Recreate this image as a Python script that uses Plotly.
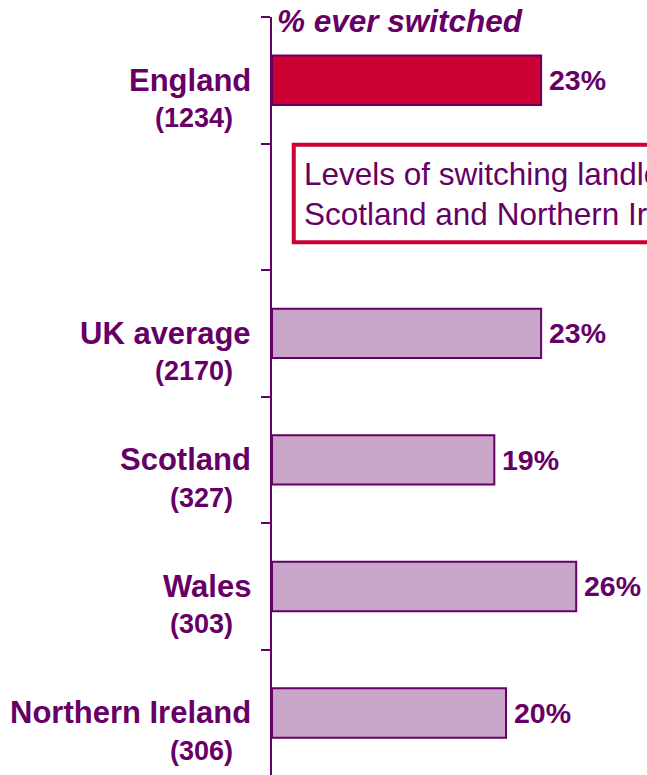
import plotly.graph_objects as go

categories = ["England", " ", "UK average", "Scotland", "Wales", "Northern Ireland"]
sample_sizes = ["(1234)", "", "(2170)", "(327)", "(303)", "(306)"]
values = [23, None, 23, 19, 26, 20]
bar_colors = ["#CC0033", "#C9A6C9", "#C9A6C9", "#C9A6C9", "#C9A6C9", "#C9A6C9"]
title_text = "% ever switched"
box_lines = ["Levels of switching landlords are similar across England, Wales,",
             "Scotland and Northern Ireland"]

PURPLE = "#660066"
RED = "#CC0033"
FONT = "Liberation Sans, Arial, sans-serif"

bar_cats = [c for c, v in zip(categories, values) if v is not None]
bar_vals = [v for v in values if v is not None]
bar_cols = [col for col, v in zip(bar_colors, values) if v is not None]

fig = go.Figure()
fig.add_trace(go.Bar(
    y=bar_cats, x=bar_vals, orientation="h",
    marker=dict(color=bar_cols, line=dict(color=PURPLE, width=2)),
    width=0.39, showlegend=False, hoverinfo="skip",
))

annotations = []
for c, n, v in zip(categories, sample_sizes, values):
    if v is None:
        continue
    annotations.append(dict(
        x=0, xref="paper", y=c, yref="y", text=f"<b>{c}</b>",
        xanchor="right", yanchor="middle", xshift=-19, yshift=0,
        showarrow=False, font=dict(family=FONT, size=31, color=PURPLE)))
    annotations.append(dict(
        x=0, xref="paper", y=c, yref="y", text=f"<b>{n}</b>",
        xanchor="right", yanchor="middle", xshift=-37, yshift=-38,
        showarrow=False, font=dict(family=FONT, size=27, color=PURPLE)))
    annotations.append(dict(
        x=v, xref="x", y=c, yref="y", text=f"<b>{v}%</b>",
        xanchor="left", yanchor="middle", xshift=6,
        showarrow=False, font=dict(family=FONT, size=28.5, color=PURPLE)))

annotations.append(dict(
    x=0, xref="paper", y=1, yref="paper", text=f"<b><i>{title_text}</i></b>",
    xanchor="left", yanchor="middle", xshift=3, yshift=-4,
    showarrow=False, font=dict(family=FONT, size=31.5, color=PURPLE)))

for i, line in enumerate(box_lines):
    annotations.append(dict(
        x=0, xref="paper", y=categories[1], yref="y", text=line,
        xanchor="left", yanchor="middle", xshift=30, yshift=33 - 40 * i,
        showarrow=False, font=dict(family=FONT, size=31.5, color=PURPLE)))

fig.add_shape(type="rect", xref="paper", yref="y",
              x0=0.058, x1=1.2, y0=0.51, y1=1.28,
              line=dict(color=RED, width=4), fillcolor="rgba(0,0,0,0)",
              layer="below")

fig.update_layout(
    width=647, height=775,
    margin=dict(l=272, r=0, t=17, b=0),
    paper_bgcolor="white", plot_bgcolor="white",
    annotations=annotations,
    xaxis=dict(range=[0, 32.05], visible=False, fixedrange=True),
    yaxis=dict(
        categoryorder="array", categoryarray=categories,
        range=[5.49, -0.5], showticklabels=False,
        showline=True, linecolor=PURPLE, linewidth=2,
        ticks="outside", tickson="boundaries", ticklen=9,
        tickcolor=PURPLE, tickwidth=2, showgrid=False, zeroline=False,
    ),
)

fig.write_html("out.html")
